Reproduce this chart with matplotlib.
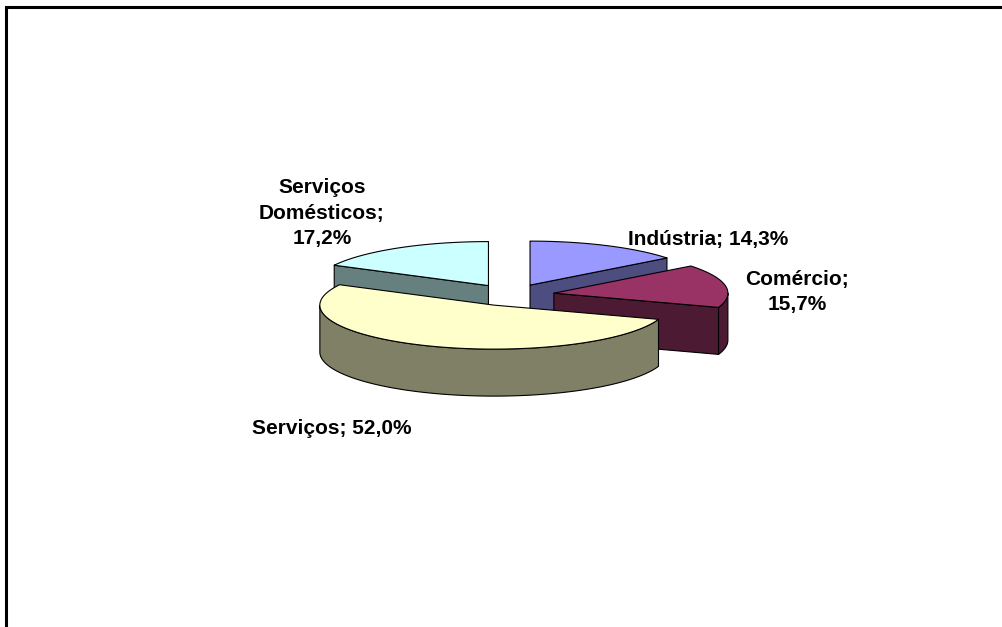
import matplotlib.pyplot as plt
import numpy as np
from matplotlib.patches import Polygon

# Dados
setores = ['Indústria', 'Comércio', 'Serviços', 'Serviços\nDomésticos']
valores = [14.3, 15.7, 52.0, 17.2]
rotulos = ['Indústria; 14,3%', 'Comércio;\n15,7%', 'Serviços; 52,0%',
           'Serviços\nDomésticos;\n17,2%']
cores_topo = ['#9999FF', '#993366', '#FFFFCC', '#CCFFFF']

# Geometria da pizza 3D (em pixels da figura)
cx, cy = 511, 295
ra, rb = 174, 44
prof = 47
explode = 0.25

# posições dos rótulos
pos_rotulos = [(708, 239), (797, 292), (332, 428), (322, 213)]


def escurece(cor, f=0.5):
    r, g, b = plt.matplotlib.colors.to_rgb(cor)
    return (r * f, g * f, b * f)


def ponto(x0, y0, th, dz=0):
    t = np.radians(th)
    return x0 + ra * np.cos(t), y0 - rb * np.sin(t) + dz


fig = plt.figure(figsize=(10.03, 6.27), dpi=100)
ax = fig.add_axes([0, 0, 1, 1])
ax.set_xlim(0, 1003)
ax.set_ylim(627, 0)
ax.axis('off')

total = sum(valores)
cum = np.concatenate([[0], np.cumsum(valores)])
fatias = []
for i, v in enumerate(valores):
    t_hi = 90 - 360 * cum[i] / total
    t_lo = 90 - 360 * cum[i + 1] / total
    mid = np.radians((t_lo + t_hi) / 2)
    x0 = cx + explode * ra * np.cos(mid)
    y0 = cy - explode * rb * np.sin(mid)
    fatias.append((y0, i, x0, t_lo, t_hi))

# desenha de trás para frente
for y0, i, x0, t_lo, t_hi in sorted(fatias):
    topo = cores_topo[i]
    lado = escurece(topo)
    kw = dict(edgecolor='black', linewidth=0.8, joinstyle='round')

    # paredes radiais visíveis
    for th, vis in [(t_lo, np.cos(np.radians(t_lo)) > 1e-6),
                    (t_hi, np.cos(np.radians(t_hi)) < -1e-6)]:
        if vis:
            px, py = ponto(x0, y0, th)
            ax.add_patch(Polygon([(x0, y0), (px, py), (px, py + prof),
                                  (x0, y0 + prof)], facecolor=lado, **kw))

    # parede externa (parte da frente)
    ths = np.linspace(t_lo, t_hi, 400)
    frente = ths[np.sin(np.radians(ths)) <= 0]
    if len(frente) > 1:
        cima = [ponto(x0, y0, t) for t in frente]
        baixo = [ponto(x0, y0, t, prof) for t in frente[::-1]]
        ax.add_patch(Polygon(cima + baixo, facecolor=lado, **kw))

    # topo
    arco = [ponto(x0, y0, t) for t in ths]
    ax.add_patch(Polygon([(x0, y0)] + arco, facecolor=topo, **kw))

for txt, (x, y) in zip(rotulos, pos_rotulos):
    ax.text(x, y, txt, ha='center', va='center', fontsize=15,
            fontweight='bold', family='Liberation Sans', linespacing=1.42,
            multialignment='center')

# moldura
ax.plot([6.5, 6.5, 1003], [627, 6.5, 6.5], color='black', linewidth=2.2,
        solid_joinstyle='miter', clip_on=False)

fig.savefig('out.png', dpi=100)
